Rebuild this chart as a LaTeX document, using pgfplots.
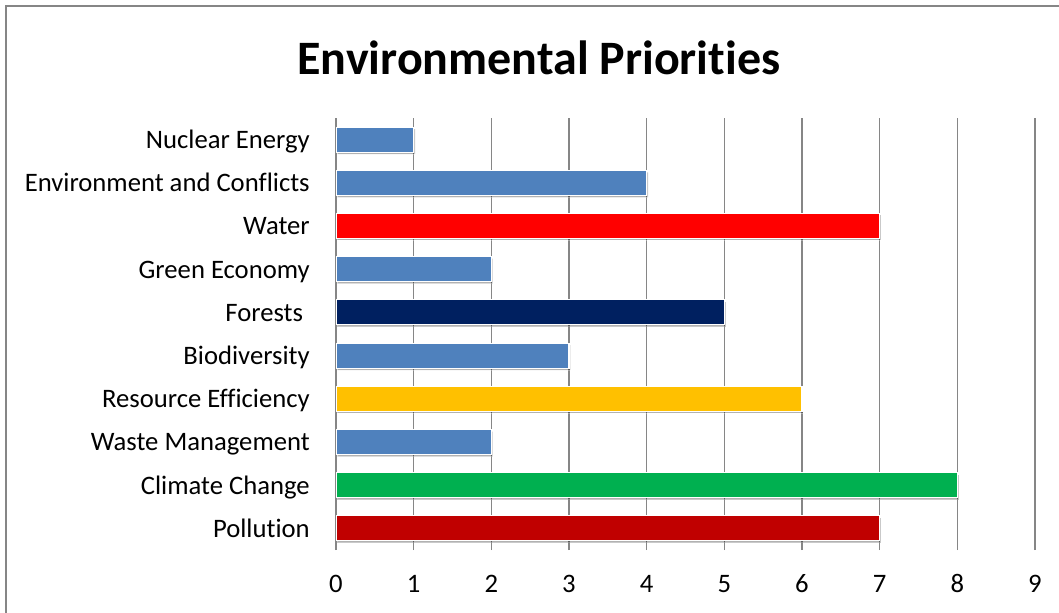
\documentclass[border=0pt]{standalone}
\usepackage{pgfplots}
\pgfplotsset{compat=1.18}
\usepackage{fontspec}
\setmainfont{Carlito}[Ligatures=NoCommon]
\usetikzlibrary{shadows}
\definecolor{cblue}{HTML}{4F81BD}
\definecolor{cred}{HTML}{FF0000}
\definecolor{cnavy}{HTML}{002060}
\definecolor{cgold}{HTML}{FFC000}
\definecolor{cgreen}{HTML}{00B050}
\definecolor{cdred}{HTML}{C00000}
\definecolor{gridc}{HTML}{868686}
\begin{document}
\begin{tikzpicture}
\useasboundingbox (0,0) rectangle (794.25pt,459pt);
\draw[gridc, line width=1.5pt] (4.5pt,-2pt) -- (4.5pt,454.5pt) -- (800pt,454.5pt);
\node[font=\bfseries\fontsize{36}{42}\selectfont, anchor=center] at (404.25pt,415.5pt) {Environmental Priorities};
\begin{axis}[
  at={(252pt,46.5pt)}, anchor=south west,
  scale only axis, width=524.25pt, height=324pt,
  xbar, bar width=18.75pt, bar shift=0pt,
  xmin=0, xmax=9, ymin=-0.5, ymax=9.5,
  xtick={0,...,9}, ytick={0,...,9},
  yticklabels={Pollution,Climate Change,Waste Management,Resource Efficiency,Biodiversity,{Forests\kern5pt},Green Economy,Water,Environment and Conflicts,Nuclear Energy},
  major tick length=0pt,
  axis line style={draw=none},
  xmajorgrids, major grid style={gridc, line width=1.1pt},
  tick label style={font=\fontsize{20}{24}\selectfont},
  yticklabel style={anchor=east, inner sep=0pt, xshift=-19.5pt, text height=0.65em, text depth=0.02em, yshift=-3.5pt},
  xticklabel style={anchor=base, inner sep=0pt, yshift=-31.5pt},
  /pgf/number format/assume math mode=true,
  every axis plot/.append style={draw=white, line width=0.8pt,
     drop shadow={shadow xshift=1pt, shadow yshift=-1.5pt, fill=black, opacity=0.3}},
]
\addplot[fill=cdred] coordinates {(7,0)};
\addplot[fill=cgreen] coordinates {(8,1)};
\addplot[fill=cblue] coordinates {(2,2) (3,4) (2,6) (4,8) (1,9)};
\addplot[fill=cgold] coordinates {(6,3)};
\addplot[fill=cnavy] coordinates {(5,5)};
\addplot[fill=cred] coordinates {(7,7)};
\end{axis}
\end{tikzpicture}
\end{document}
